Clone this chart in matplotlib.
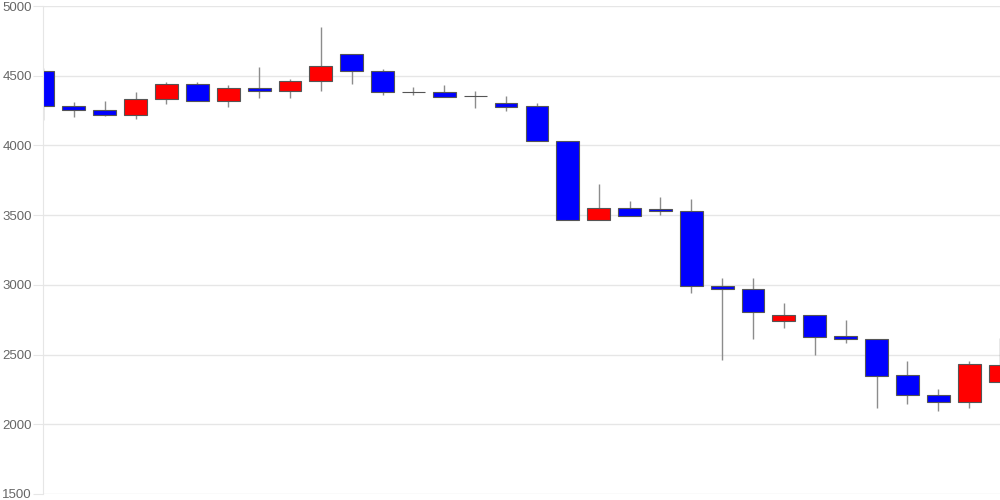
import numpy as np
import matplotlib
matplotlib.use("Agg")
import matplotlib.pyplot as plt

# daily prices
opens = [4534, 4283, 4254, 4220, 4331, 4441, 4321, 4410, 4390, 4460,
         4653, 4532, 4381, 4381, 4352, 4302, 4283, 4032, 3463, 3549,
         3544, 3532, 2992, 2973, 2738, 2784, 2633, 2612, 2352, 2213,
         2161, 2301]
closes = [4283, 4252, 4220, 4333, 4441, 4321, 4410, 4390, 4460, 4570,
          4532, 4381, 4381, 4350, 4352, 4278, 4030, 3463, 3549, 3491,
          3530, 2990, 2970, 2808, 2784, 2629, 2610, 2349, 2211, 2161,
          2430, 2423]
highs = [4555, 4311, 4321, 4383, 4453, 4453, 4433, 4563, 4479, 4852,
         4653, 4548, 4421, 4433, 4393, 4352, 4302, 4032, 3723, 3601,
         3630, 3614, 3052, 3052, 2870, 2784, 2750, 2612, 2454, 2253,
         2454, 2620]
lows = [4182, 4202, 4211, 4192, 4300, 4320, 4278, 4342, 4342, 4393,
        4443, 4362, 4359, 4350, 4271, 4249, 4030, 3463, 3463, 3491,
        3501, 2940, 2461, 2610, 2693, 2499, 2581, 2118, 2148, 2097,
        2118, 2301]

y_ticks = [1500, 2000, 2500, 3000, 3500, 4000, 4500, 5000]

plt.rcParams["font.family"] = ["Liberation Sans", "DejaVu Sans"]

x = np.arange(len(opens))
o = np.array(opens)
c = np.array(closes)

fig = plt.figure(figsize=(10, 5), dpi=100)
ax = fig.add_axes([0.043, 0.012, 0.957, 0.976])

for t in y_ticks:
    ax.axhline(t, color="#e6e6e6", lw=1, zorder=0)

ax.vlines(x, lows, highs, color="#8c8c8c", lw=1, zorder=1)

colors = np.where(c > o, "#ff0000", "#0000ff")
colors = np.where(c == o, "#000000", colors)
ax.bar(x, np.abs(c - o), bottom=np.minimum(o, c), width=0.74,
       color=colors, edgecolor="#555555", lw=0.8, zorder=2)

ax.set_xlim(0, len(opens) - 1)
ax.set_ylim(1500, 5000)
ax.set_yticks(y_ticks)
ax.set_xticks([])
ax.tick_params(axis="y", length=7, color="#e6e6e6", labelcolor="#666666",
               labelsize=9.5, pad=1)
for s in ["top", "right", "bottom"]:
    ax.spines[s].set_visible(False)
ax.spines["left"].set_color("#e6e6e6")

fig.savefig("out.png", dpi=100)
